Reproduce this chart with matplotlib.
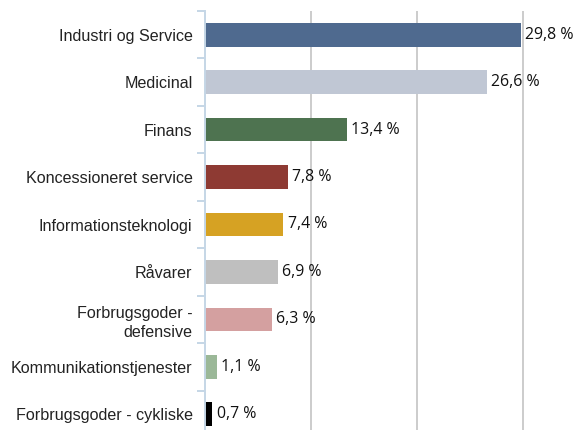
import matplotlib.pyplot as plt
import numpy as np

categories = ['Industri og Service', 'Medicinal', 'Finans', 'Koncessioneret service',
              'Informationsteknologi', 'Råvarer', 'Forbrugsgoder -\ndefensive',
              'Kommunikationstjenester', 'Forbrugsgoder - cykliske']
values = [29.8, 26.6, 13.4, 7.8, 7.4, 6.9, 6.3, 1.1, 0.7]
colors = ['#4f6a8f', '#c0c7d4', '#4e7350', '#8e3a33', '#d6a223',
          '#bfbfbf', '#d4a0a0', '#9bb898', '#000000']

fig = plt.figure(figsize=(5.79, 4.30), dpi=100)
ax = fig.add_axes([205 / 579, 1 - 438 / 430, 371 / 579, 427 / 430])

y = np.arange(len(categories))
ax.barh(y, values, height=0.5, color=colors, zorder=3)
ax.set_ylim(len(categories) - 0.5, -0.5)
ax.set_xlim(0, 35)

ax.set_xticks([10, 20, 30])
ax.xaxis.grid(True, color='#cccccc', linewidth=1.4, zorder=0)
ax.tick_params(axis='x', bottom=False, labelbottom=False)

ax.set_yticks(y)
ax.set_yticklabels(categories, fontsize=11.6, family='Liberation Sans', color='#222222')
for lbl in ax.get_yticklabels():
    lbl.set_linespacing(1.35)
ax.set_yticks(np.arange(len(categories) + 1) - 0.5, minor=True)
ax.tick_params(axis='y', which='major', length=0, pad=9)
ax.tick_params(axis='y', which='minor', length=6, width=1.4, color='#c5d6e6')

for s in ['top', 'right', 'bottom']:
    ax.spines[s].set_visible(False)
ax.spines['left'].set_color('#c5d6e6')
ax.spines['left'].set_linewidth(1.4)
ax.spines['left'].set_zorder(4)

for i, v in enumerate(values):
    ax.text(v + 0.4, i, f'{v:.1f}'.replace('.', ',') + ' %', va='center', ha='left',
            fontsize=11.4, family='Open Sans', color='#111111')

fig.savefig('out.png', dpi=100)
